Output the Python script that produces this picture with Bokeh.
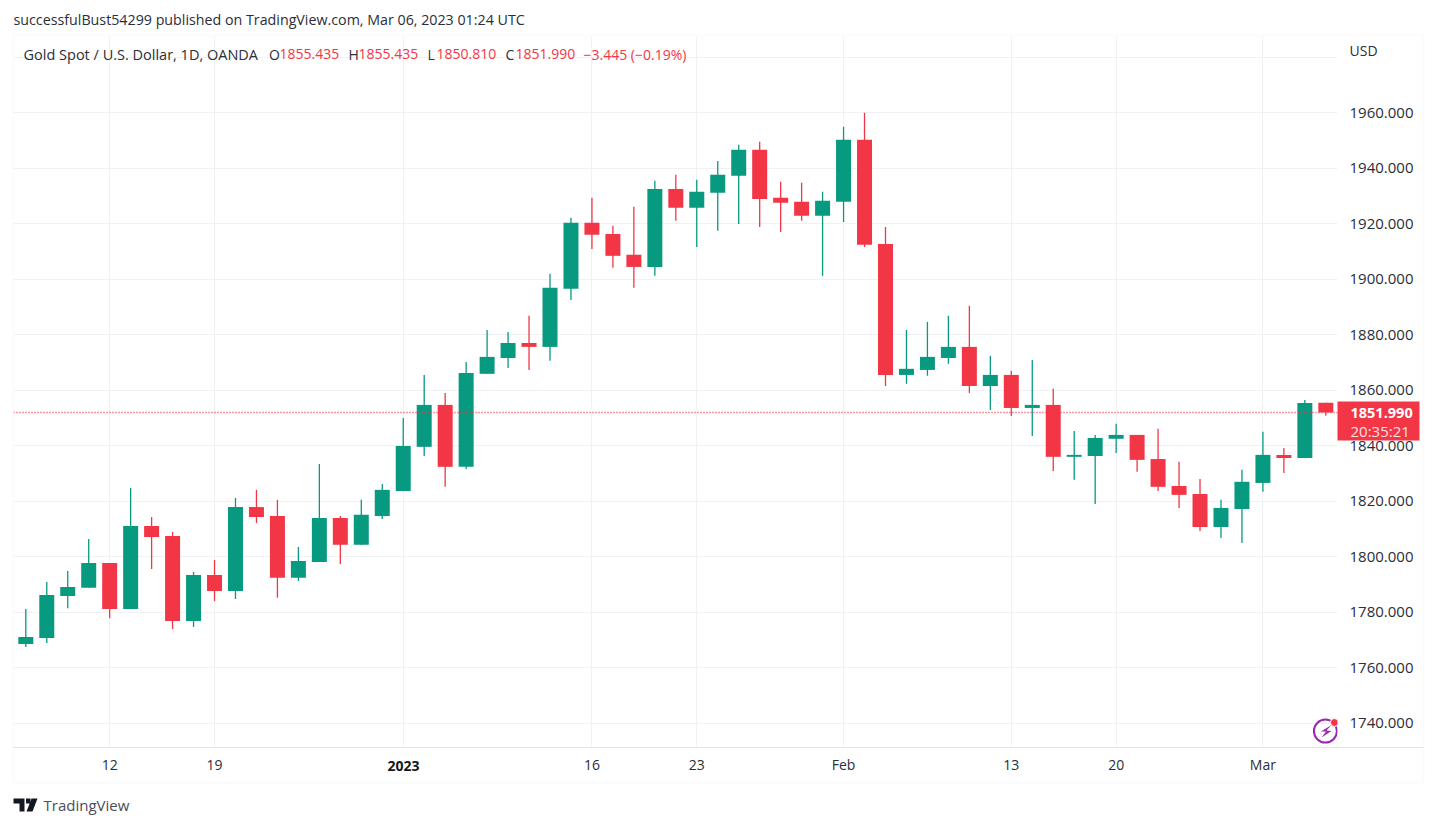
from bokeh.plotting import figure
from bokeh.layouts import column
from bokeh.models import (FixedTicker, Range1d, Span, Label, BoxAnnotation, PolyAnnotation, NumeralTickFormatter)
from bokeh.embed import file_html
from bokeh.resources import INLINE

# candle index: 0 .. 62, trading days Dec 2022 - Mar 2023
opens = [1768.6, 1770.7, 1785.9, 1788.8, 1797.8, 1781.2, 1811.1, 1807.5, 1776.9, 1793.4,
         1787.7, 1817.9, 1814.7, 1792.4, 1798.1, 1814.0, 1804.3, 1814.7, 1823.7, 1839.6,
         1854.7, 1832.4, 1865.9, 1871.6, 1877.0, 1875.6, 1896.5, 1920.3, 1916.3, 1908.8,
         1904.4, 1932.5, 1925.7, 1931.1, 1937.2, 1946.6, 1929.3, 1927.9, 1922.8, 1927.9,
         1950.2, 1912.7, 1865.5, 1867.3, 1871.6, 1875.6, 1861.5, 1865.5, 1853.6, 1854.7,
         1836.0, 1836.3, 1842.5, 1843.9, 1835.2, 1825.5, 1822.6, 1810.7, 1817.2, 1826.6,
         1836.7, 1835.6, 1855.435]
highs = [1781.2, 1790.9, 1794.9, 1806.4, 1797.8, 1824.8, 1814.3, 1808.9, 1794.5, 1798.8,
         1821.2, 1824.1, 1820.5, 1803.5, 1833.4, 1814.7, 1820.5, 1826.2, 1850.0, 1865.5,
         1859.0, 1870.2, 1881.7, 1881.0, 1886.8, 1901.9, 1922.1, 1929.3, 1919.2, 1926.1,
         1935.4, 1937.6, 1935.8, 1942.6, 1948.4, 1949.5, 1935.1, 1934.7, 1931.5, 1954.9,
         1959.9, 1918.8, 1881.7, 1884.6, 1886.8, 1890.4, 1872.4, 1867.0, 1870.9, 1860.5,
         1845.3, 1843.9, 1847.9, 1843.9, 1846.1, 1834.2, 1828.0, 1820.5, 1831.3, 1845.0,
         1839.2, 1856.5, 1855.435]
lows = [1767.5, 1768.9, 1781.5, 1788.8, 1777.9, 1781.2, 1795.6, 1774.0, 1774.7, 1784.1,
        1784.8, 1812.2, 1785.2, 1791.3, 1798.1, 1797.4, 1804.3, 1813.6, 1823.7, 1836.3,
        1825.2, 1831.6, 1865.9, 1868.0, 1867.3, 1870.6, 1892.5, 1910.9, 1904.1, 1896.9,
        1901.2, 1921.0, 1911.6, 1917.4, 1919.9, 1918.8, 1917.0, 1921.0, 1901.2, 1920.6,
        1911.6, 1861.5, 1862.3, 1865.2, 1869.5, 1859.0, 1852.9, 1850.7, 1843.5, 1830.9,
        1827.7, 1819.0, 1837.4, 1830.6, 1823.7, 1817.6, 1809.3, 1806.8, 1805.0, 1823.4,
        1830.2, 1835.6, 1850.81]
closes = [1771.1, 1786.2, 1789.1, 1797.8, 1781.2, 1811.1, 1807.1, 1776.9, 1793.4, 1787.7,
          1817.9, 1814.3, 1792.4, 1798.5, 1814.0, 1804.3, 1815.1, 1824.1, 1839.9, 1854.7,
          1832.4, 1866.2, 1872.0, 1877.0, 1875.6, 1896.9, 1920.3, 1916.0, 1908.4, 1904.4,
          1932.5, 1925.7, 1931.5, 1937.6, 1946.6, 1928.9, 1927.5, 1922.8, 1928.2, 1950.2,
          1912.4, 1865.5, 1867.7, 1872.0, 1875.6, 1861.5, 1865.5, 1853.6, 1854.7, 1836.0,
          1836.7, 1842.8, 1843.9, 1834.9, 1825.2, 1822.3, 1810.7, 1817.6, 1827.0, 1836.7,
          1835.6, 1855.4, 1851.99]

x_tick_positions = [4, 9, 18, 27, 32, 39, 47, 52, 59]
x_tick_labels = ["12", "19", "", "16", "23", "Feb", "13", "20", "Mar"]
y_ticks = [1740, 1760, 1780, 1800, 1820, 1840, 1860, 1880, 1900, 1920, 1940, 1960, 1980]
last_price = 1851.99

UP, DOWN = "#089981", "#f23645"
W, H = 1436, 825
FONT = "Open Sans"
TXT = "#2a2e39"
GRID = "#f0f1f5"
PURPLE = "#9c27b0"

L, R, T, B = 13, 1337, 36, 747

p = figure(width=W, height=H, output_backend="svg", toolbar_location=None,
           x_axis_location="below", y_axis_location="right", frame_align=False,
           min_border_left=L, min_border_right=W-R, min_border_top=T, min_border_bottom=H-B,
           x_range=Range1d(-0.587, 62.557), y_range=Range1d(1731.3, 1987.4))
p.outline_line_color = None
p.background_fill_color = "white"

x = list(range(len(opens)))
color = [UP if c >= o else DOWN for o, c in zip(opens, closes)]
p.segment(x, highs, x, lows, color=color, line_width=1.3)
p.vbar(x=x, width=0.715, top=[max(a, b) for a, b in zip(opens, closes)],
       bottom=[min(a, b) for a, b in zip(opens, closes)], fill_color=color, line_color=None)

p.xaxis.ticker = FixedTicker(ticks=x_tick_positions)
p.xaxis.major_label_overrides = dict(zip(x_tick_positions, x_tick_labels))
p.yaxis.ticker = FixedTicker(ticks=y_ticks)
p.yaxis.formatter = NumeralTickFormatter(format="0.000")
p.yaxis.major_label_overrides = {1980: ""}
for ax in (p.xaxis[0], p.yaxis[0]):
    ax.axis_line_color = None
    ax.major_tick_line_color = None
    ax.minor_tick_line_color = None
    ax.major_label_text_font = FONT
    ax.major_label_text_color = TXT
p.xaxis.major_label_text_font_size = "14px"
p.yaxis.major_label_text_font_size = "15px"
p.yaxis.major_label_standoff = 6
p.xaxis.major_label_standoff = 1
p.xgrid.ticker = FixedTicker(ticks=x_tick_positions)
p.ygrid.ticker = FixedTicker(ticks=y_ticks)
p.xgrid.grid_line_color = GRID
p.ygrid.grid_line_color = GRID

p.add_layout(Span(location=last_price, dimension="width", line_color=DOWN, line_dash="1 2", line_width=1.6))

# lightning badge sits in the frame and is cut by its right edge, as in the reference
p.scatter([61.98], [1737.2], size=23, fill_color=None, line_color=PURPLE, line_width=2, marker="circle")
p.scatter([62.41], [1740.3], size=8, fill_color=DOWN, line_color="white", line_width=1, marker="circle")

# transparent sheet over the whole page for everything outside the plot frame; its data units are page pixels
d = figure(width=W, height=H, output_backend="svg", toolbar_location=None, frame_align=False,
           x_axis_location=None, y_axis_location=None, min_border=0,
           min_border_left=0, min_border_right=0, min_border_top=0, min_border_bottom=0,
           x_range=Range1d(0, W), y_range=Range1d(H, 0), margin=(-H, 0, 0, 0))
d.grid.visible = False
d.outline_line_color = None
d.background_fill_alpha = 0
d.border_fill_alpha = 0

def box(l, r, t, b, **kw):
    d.add_layout(BoxAnnotation(left=l, right=r, top=t, bottom=b, **kw))

box(13, 1423, 35, 782, fill_alpha=0, line_color="#f0f3fa", line_width=2)
box(13, 1423, 746.5, 747.5, fill_color="#e0e3eb", fill_alpha=1, line_alpha=0)
box(1337, 1419, 401, 440, fill_color=DOWN, fill_alpha=1, line_alpha=0)

def label(px, py, text, size=14.0, color=TXT, style="normal", align="left"):
    d.add_layout(Label(x=px, y=py, text=text, text_font=FONT, text_font_size=f"{size}px",
                       text_color=color, text_font_style=style, text_align=align, text_baseline="middle"))

label(13, 19, "successfulBust54299 published on TradingView.com, Mar 06, 2023 01:24 UTC", size=14.25)
label(23, 53.5, "Gold Spot / U.S. Dollar, 1D, OANDA", size=14.5)
for px, t, c in [(268.5, "O", TXT), (279, "1855.435", DOWN), (348, "H", TXT), (358, "1855.435", DOWN),
                 (427, "L", TXT), (436, "1850.810", DOWN), (505, "C", TXT), (515, "1851.990", DOWN),
                 (583, "−3.445 (−0.19%)", DOWN)]:
    label(px, 53.5, t, color=c)
label(1349, 50, "USD", size=14)
label(1350, 412, "1851.990", size=14.5, color="white", style="bold")
label(1350, 430, "20:35:21", size=15, color="#fde0e3")
label(403, 765, "2023", size=14, color="#131722", style="bold", align="center")
label(43, 804.5, "TradingView", size=15, color="#4a4e59")

# TradingView mark and the bolt of the badge
def poly(pts, **kw):
    d.add_layout(PolyAnnotation(xs=[a for a, _ in pts], ys=[b for _, b in pts], **kw))
k = dict(fill_color="#131722", fill_alpha=1, line_alpha=0)
poly([(13, 798), (24, 798), (24, 811), (19, 811), (19, 803), (13, 803)], **k)
poly([(31, 798), (37, 798), (32, 811), (26, 811)], **k)
poly([(25.5, 798), (30, 798), (30, 803), (25.5, 803)], **k)
poly([(1331, 724.5), (1320.5, 731), (1325.5, 731), (1321, 737), (1331, 730.5), (1326, 730)],
     fill_color=PURPLE, fill_alpha=1, line_alpha=0)

open("out.html", "w").write(file_html(column(p, d), INLINE))
